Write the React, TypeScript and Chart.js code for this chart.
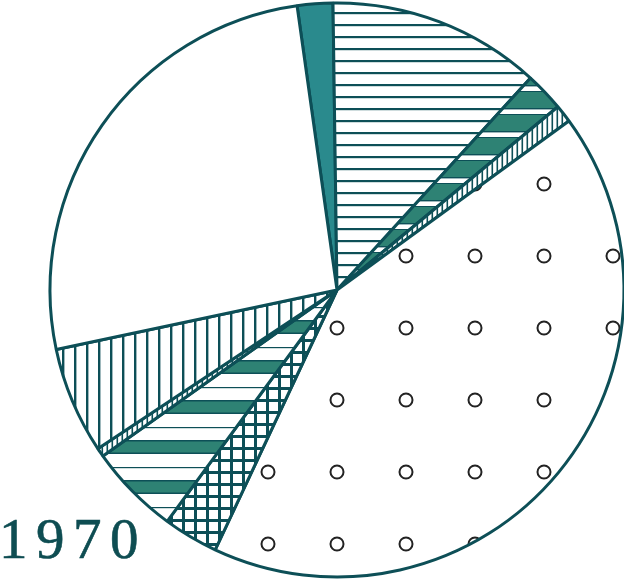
import React, { useEffect, useRef } from "react";
import { Chart, registerables } from "chart.js";

Chart.register(...registerables);

// ---- data (percent of the circle, clockwise from the start angle) ----
const labels = [
  "Solid",
  "Horizontal lines",
  "Striped A",
  "Dotted A",
  "Circles",
  "Cross-hatched",
  "Striped B",
  "Dotted B",
  "Vertical lines",
  "Blank",
];
const values = [2.0, 12.0, 2.2, 1.0, 42.0, 3.1, 5.1, 0.5, 6.0, 26.1];
const startAngle = -8;
const yearLabel = "1970";

const INK = "#0d4f57";
const TEAL = "#2a8a8d";
const STRIPE_TEAL = "#2e8274";

function tile(w: number, h: number, draw: (c: CanvasRenderingContext2D) => void): CanvasPattern | string {
  const cv = document.createElement("canvas");
  cv.width = w;
  cv.height = h;
  const c = cv.getContext("2d");
  if (!c) return "#fff";
  c.fillStyle = "#fff";
  c.fillRect(0, 0, w, h);
  draw(c);
  const p = c.createPattern(cv, "repeat");
  return p || "#fff";
}

function makeFills(): (CanvasPattern | string)[] {
  const horizontal = tile(12, 12, (c) => {
    c.fillStyle = INK;
    c.fillRect(0, 0, 12, 2.2);
  });
  const vertical = tile(12, 12, (c) => {
    c.fillStyle = INK;
    c.fillRect(2, 0, 2.4, 12);
  });
  const cross = tile(12, 12, (c) => {
    c.fillStyle = INK;
    c.fillRect(2, 0, 3, 12);
    c.fillRect(0, 3, 12, 3);
  });
  const stripeA = tile(8, 23, (c) => {
    c.fillStyle = STRIPE_TEAL;
    c.fillRect(0, 0, 8, 23);
    c.fillStyle = "#fff";
    c.fillRect(0, 17, 8, 5);
    c.fillStyle = INK;
    c.fillRect(0, 16, 8, 1.4);
    c.fillRect(0, 22, 8, 1.4);
  });
  const stripeB = tile(8, 40, (c) => {
    c.fillStyle = STRIPE_TEAL;
    c.fillRect(0, 0, 8, 13);
    c.fillStyle = INK;
    c.fillRect(0, 0, 8, 1.5);
    c.fillRect(0, 12.5, 8, 1.5);
    c.fillRect(0, 27, 8, 1.2);
  });
  const dotted = tile(5, 6, (c) => {
    c.fillStyle = INK;
    c.fillRect(1.5, 0, 1.6, 6);
  });
  const circles = tile(69, 72, (c) => {
    c.strokeStyle = "#222";
    c.lineWidth = 2;
    c.beginPath();
    c.arc(61, 40, 6.5, 0, Math.PI * 2);
    c.stroke();
  });
  return [TEAL, horizontal, stripeA, dotted, circles, cross, stripeB, dotted, vertical, "#ffffff"];
}

export default function App() {
  const ref = useRef<HTMLCanvasElement | null>(null);

  useEffect(() => {
    if (!ref.current) return;
    const chart = new Chart(ref.current, {
      type: "pie",
      data: {
        labels,
        datasets: [
          {
            data: values,
            backgroundColor: makeFills() as any,
            borderColor: INK,
            borderWidth: 3,
            hoverOffset: 0,
          },
        ],
      },
      options: {
        responsive: false,
        animation: false,
        events: [],
        rotation: startAngle,
        layout: { padding: { left: 48.5, right: 54.5, top: 1.5, bottom: 5.5 } },
        plugins: {
          legend: { display: false },
          tooltip: { enabled: false },
        },
      },
    });
    return () => chart.destroy();
  }, []);

  return (
    <div
      style={{
        position: "fixed",
        left: 0,
        top: 0,
        width: 624,
        height: 584,
        overflow: "hidden",
        background: "#ffffff",
      }}
    >
      <canvas ref={ref} width={680} height={584} style={{ width: 680, height: 584, display: "block" }} />
      <div
        style={{
          position: "absolute",
          left: -1,
          top: 511,
          fontFamily: "'Liberation Serif', 'DejaVu Serif', serif",
          fontSize: 57,
          lineHeight: "56px",
          letterSpacing: 8.5,
          color: "#0e4d52",
          whiteSpace: "nowrap",
          WebkitTextStroke: "0.6px #0e4d52",
        }}
      >
        {yearLabel}
      </div>
    </div>
  );
}
